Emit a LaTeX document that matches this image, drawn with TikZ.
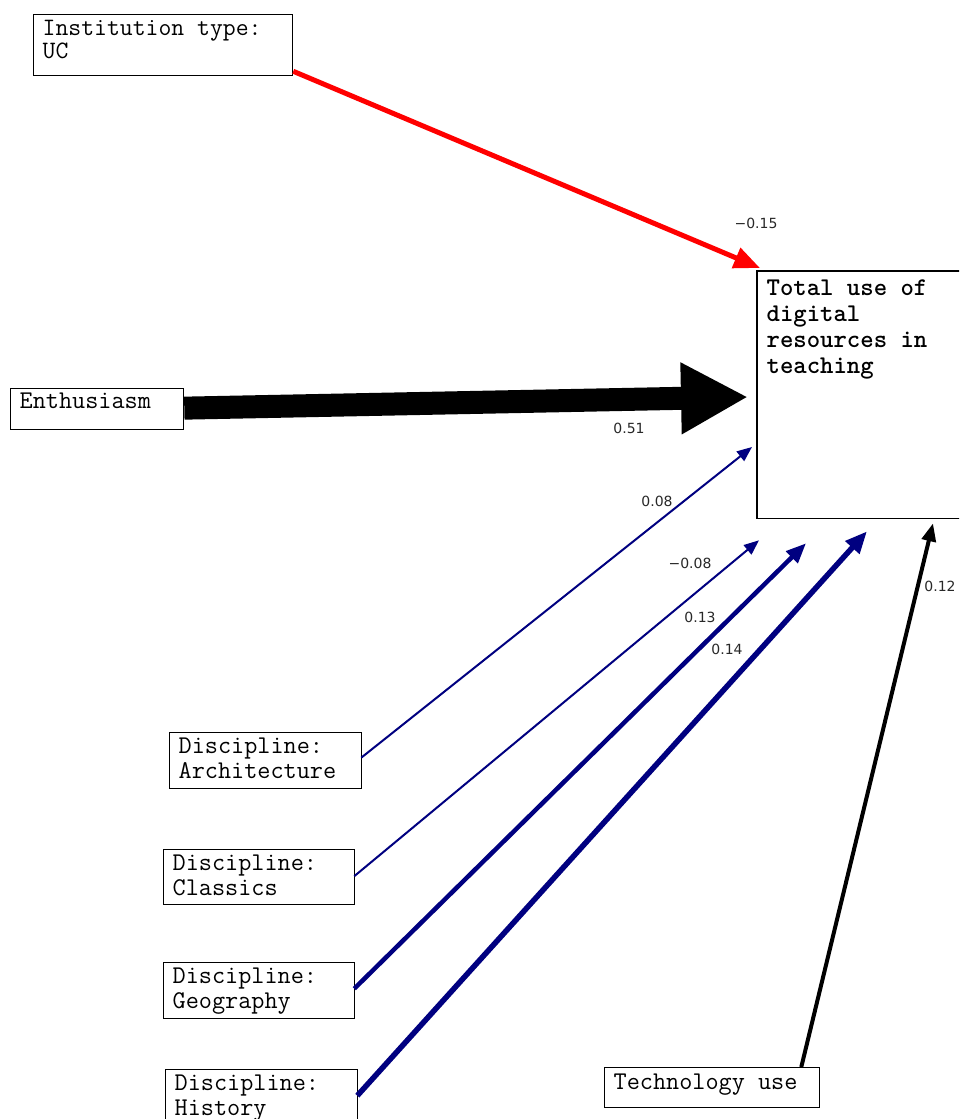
\documentclass[tikz,border=0pt]{standalone}
\usepackage{fontspec}
\newfontfamily\labf{DejaVu Sans}
\usetikzlibrary{arrows.meta}
\definecolor{navyb}{RGB}{0,0,128}
\definecolor{redarr}{RGB}{255,0,0}
\definecolor{labgray}{RGB}{40,40,40}
\begin{document}
\begin{tikzpicture}[x=1pt,y=-1pt,
  box/.style={draw, line width=1.3pt, inner xsep=9pt, inner ysep=8pt, anchor=north west,
    font=\ttfamily\fontsize{25.5}{25}\selectfont},
  border/.style={draw, line width=1.3pt},
  lab/.style={font=\labf\fontsize{14}{16}\selectfont, text=labgray, inner sep=0pt},
  redline/.style={draw=redarr, line width=5pt, -{Triangle[length=26pt,width=21pt]}},
  bigline/.style={draw=black, line width=23pt, -{Triangle[length=67pt,width=67pt]}},
  thinblue/.style={draw=navyb, line width=2pt, -{Triangle[length=15pt,width=12pt]}},
  midblue/.style={draw=navyb, line width=4.5pt, -{Triangle[length=20pt,width=16pt]}},
  thickblue/.style={draw=navyb, line width=5.5pt, -{Triangle[length=22pt,width=18pt]}},
  techline/.style={draw=black, line width=4pt, -{Triangle[length=18pt,width=14pt]}}]
\useasboundingbox (0,0) rectangle (959,1119);
\fill[white] (0,0) rectangle (959,1119);
\clip (0,0) rectangle (959,1119);

\node[box, inner ysep=6pt] (inst) at (33,14) {\fontsize{25}{23}\selectfont\parbox[c][49pt][t]{241pt}{Institution type:\\UC}};
\node[box, inner ysep=4pt] (enth) at (10,388) {\parbox[c][33pt][t]{155pt}{Enthusiasm}};
\node[box, draw=none, inner ysep=8pt] (tot) at (757,271) {\fontsize{25.5}{26}\selectfont\parbox[c][230pt][t]{185pt}{\bfseries Total use of\\digital\\resources in\\teaching}};
\draw[border] ([shift={(40,0)}]tot.north east) -- (tot.north west) -- (tot.south west) -- ([shift={(40,0)}]tot.south east);
\node[box, inner ysep=5pt] (arch) at (169,732) {\parbox[c][46pt][t]{174pt}{Discipline:\\Architecture}};
\node[box, inner ysep=5pt] (clas) at (163,849) {\parbox[c][45pt][t]{173pt}{Discipline:\\Classics}};
\node[box, inner ysep=5pt] (geo) at (163,962) {\parbox[c][46pt][t]{173pt}{Discipline:\\Geography}};
\node[box, inner ysep=5pt] (hist) at (165,1069) {\parbox[c][48pt][t]{174pt}{Discipline:\\History}};
\node[box, inner ysep=6pt] (tech) at (604,1067) {\parbox[c][28pt][t]{197pt}{Technology use}};

\draw[redline] ([shift={(0,-5)}]inst.south east) -- ([shift={(3,-3)}]tot.north west);
\draw[bigline] ([shift={(0,-1)}]enth.east) -- ([shift={(-9,126)}]tot.north west);
\draw[thinblue] ([shift={(-1,-3)}]arch.east) -- ([shift={(-5,176)}]tot.north west);
\draw[thinblue] ([shift={(-1,-1)}]clas.east) -- ([shift={(2,22)}]tot.south west);
\draw[midblue] ([shift={(-1,-2)}]geo.east) -- ([shift={(49,25)}]tot.south west);
\draw[thickblue] ([shift={(-1,-3)}]hist.east) -- ([shift={(110,13)}]tot.south west);
\draw[techline] ([shift={(-19,0)}]tech.north east) -- ([shift={(176,5)}]tot.south west);

\node[lab] (l1) at (756,223) {−0.15};
\node[lab] (l2) at (629,428) {0.51};
\node[lab] (l3) at (657,501) {0.08};
\node[lab] (l4) at (690,563) {−0.08};
\node[lab] (l5) at (700,617) {0.13};
\node[lab] (l6) at (727,649) {0.14};
\node[lab] (l7) at (940,586) {0.12};
\end{tikzpicture}
\end{document}
